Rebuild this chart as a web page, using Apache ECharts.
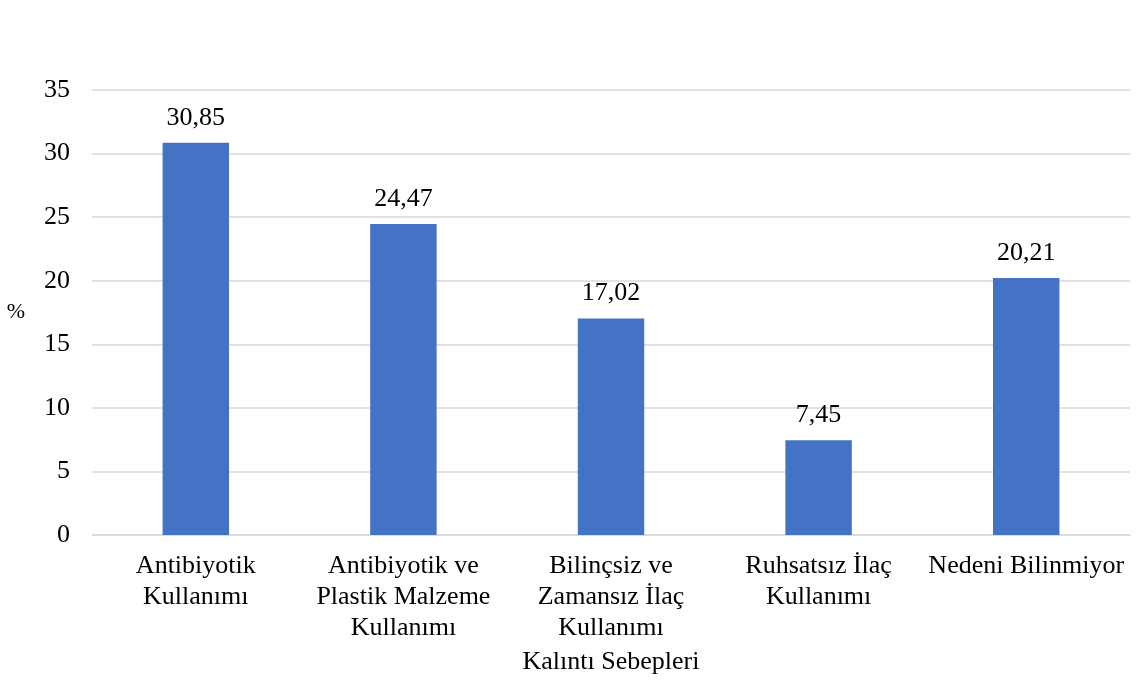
<!DOCTYPE html>
<html>
<head>
<meta charset="utf-8">
<script src="https://cdn.jsdelivr.net/npm/echarts@6/dist/echarts.min.js"></script>
<style>
html,body{margin:0;padding:0;background:#fff;}
#chart{width:1137px;height:683px;}
</style>
</head>
<body>
<div id="chart"></div>
<script>
const categories = [
  "Antibiyotik\nKullanımı",
  "Antibiyotik ve\nPlastik Malzeme\nKullanımı",
  "Bilinçsiz ve\nZamansız İlaç\nKullanımı",
  "Ruhsatsız İlaç\nKullanımı",
  "Nedeni Bilinmiyor"
];
const values = [30.85, 24.47, 17.02, 7.45, 20.21];
const yTicks = {min: 0, max: 35, interval: 5};
const xTitle = "Kalıntı Sebepleri";
const yTitle = "%";

const FONT = '"Liberation Serif", "Times New Roman", serif';
const chart = echarts.init(document.getElementById('chart'));
chart.setOption({
  animation: false,
  textStyle: {fontFamily: FONT},
  grid: {left: 92, right: 7, top: 90, bottom: 148, containLabel: false},
  xAxis: {
    type: 'category',
    data: categories,
    name: xTitle,
    nameLocation: 'middle',
    nameGap: 114,
    nameTextStyle: {fontFamily: FONT, fontSize: 26, color: '#000'},
    axisTick: {show: false},
    axisLine: {show: true, lineStyle: {color: '#d9d9d9', width: 1.5}},
    axisLabel: {interval: 0, fontFamily: FONT, fontSize: 26, color: '#000', lineHeight: 31, margin: 16}
  },
  yAxis: {
    type: 'value',
    min: yTicks.min, max: yTicks.max, interval: yTicks.interval,
    name: yTitle,
    nameLocation: 'middle',
    nameRotate: 0,
    nameGap: 67,
    nameTextStyle: {fontFamily: FONT, fontSize: 22, color: '#000'},
    axisLine: {show: false},
    axisTick: {show: false},
    axisLabel: {fontFamily: FONT, fontSize: 26, color: '#000', margin: 22},
    splitLine: {lineStyle: {color: '#d9d9d9', width: 1.5}}
  },
  series: [{
    type: 'bar',
    data: values,
    barWidth: '32%',
    itemStyle: {color: '#4472C4'},
    label: {
      show: true, position: 'top', distance: 12,
      fontFamily: FONT, fontSize: 26, color: '#000',
      formatter: p => p.value.toFixed(2).replace('.', ',')
    }
  }]
});
</script>
</body>
</html>
